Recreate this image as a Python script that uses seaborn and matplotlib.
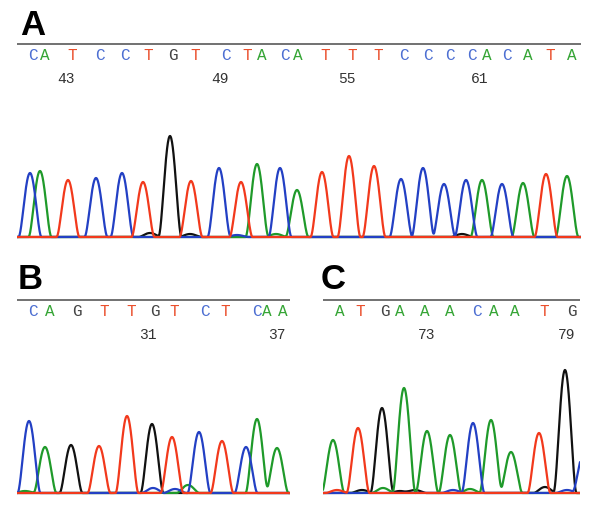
import matplotlib
matplotlib.use('Agg')
import matplotlib.pyplot as plt
import seaborn as sns
import numpy as np
import pandas as pd

sns.set_theme(style="white")
plt.rcParams['font.family'] = ['Liberation Mono', 'DejaVu Sans']

# channel colours (traces) and base-call letter colours
TRACE_COLORS = {'A': '#1f9a2a', 'C': '#2340c4', 'G': '#111111', 'T': '#f2391c'}
CALL_COLORS = {'A': '#35a535', 'C': '#4d6fd2', 'G': '#444444', 'T': '#ea4f2c'}

# ---- Panel A ----
a_calls = list("CATCCTGTCTACATTTCCCCACATA")
a_call_x = [33, 45, 72, 100, 125, 148, 173, 195, 226, 247, 262, 285, 298,
            325, 352, 378, 404, 428, 450, 472, 487, 507, 528, 550, 572]
a_numbers = ['43', '49', '55', '61']
a_number_x = [66, 220, 347, 480]
a_peak_base = ['C', 'A', 'T', 'C', 'C', 'T', 'G', 'T', 'C', 'T', 'A', 'C', 'A',
               'T', 'T', 'T', 'C', 'C', 'C', 'C', 'A', 'C', 'A', 'T', 'A',
               'G', 'G', 'C', 'A', 'G']
a_peak_x = [30, 40, 68, 96, 122, 143, 170, 191, 219, 241, 257, 280, 297,
            322, 349, 374, 401, 423, 444, 466, 482, 502, 523, 546, 567,
            150, 190, 237, 276, 462]
a_peak_h = [64, 66, 57, 59, 64, 55, 101, 56, 69, 55, 73, 69, 47,
            65, 81, 71, 58, 69, 53, 57, 57, 53, 54, 63, 61,
            4, 3, 2, 3, 3]

# ---- Panel B ----
b_calls = list("CAGTTGTCTCAA")
b_call_x = [33, 50, 77, 104, 131, 155, 174, 205, 225, 257, 267, 283]
b_numbers = ['31', '37']
b_number_x = [148, 277]
b_peak_base = ['C', 'A', 'G', 'T', 'T', 'G', 'T', 'C', 'T', 'C', 'A', 'A',
               'C', 'C', 'A', 'A']
b_peak_x = [29, 45, 71, 99, 127, 152, 172, 199, 222, 246, 257, 277,
            153, 175, 188, 25]
b_peak_h = [72, 46, 48, 47, 77, 69, 56, 61, 52, 46, 74, 45,
            5, 4, 8, 2]

# ---- Panel C ----
c_calls = list("ATGAAACAATG")
c_call_x = [340, 360, 385, 400, 425, 450, 477, 494, 515, 544, 572]
c_numbers = ['73', '79']
c_number_x = [427, 567]
c_peak_base = ['A', 'T', 'G', 'A', 'A', 'A', 'C', 'A', 'A', 'T', 'G', 'C',
               'T', 'G', 'A', 'G', 'G', 'C', 'A', 'G', 'C']
c_peak_x = [333, 358, 382, 404, 427, 450, 473, 491, 511, 539, 565, 584,
            337, 362, 383, 400, 415, 453, 470, 545, 567]
c_peak_h = [53, 65, 85, 105, 62, 58, 70, 73, 41, 60, 123, 40,
            3, 3, 5, 2, 3, 3, 4, 6, 3]

HALF_WIDTH = 11.5  # peak half-width at the baseline, in scan units


def trace_frame(bases, xs, hs, x0, x1):
    grid = np.linspace(x0, x1, 1500)
    rows = []
    for ch in ['G', 'A', 'C', 'T']:
        sig = np.zeros_like(grid)
        for b, x, h in zip(bases, xs, hs):
            if b == ch:
                u = np.clip((grid - x) / HALF_WIDTH, -1, 1)
                sig += h * (1 - u ** 2) ** 2
        rows.append(pd.DataFrame({'scan': grid, 'signal': sig, 'base': ch}))
    return pd.concat(rows, ignore_index=True)


def draw_panel(ax, x0, x1, calls, call_x, numbers, number_x, pb, px, ph):
    df = trace_frame(pb, px, ph, x0, x1)
    sns.lineplot(data=df, x='scan', y='signal', hue='base',
                 hue_order=['G', 'A', 'C', 'T'], palette=TRACE_COLORS,
                 legend=False, linewidth=1.6, ax=ax, sort=False)
    ax.hlines(193, x0, x1, color='#666666', linewidth=1.3)
    for c, x in zip(calls, call_x):
        ax.text(x, 181, c, color=CALL_COLORS[c], fontsize=11.5,
                ha='center', va='center')
    for n, x in zip(numbers, number_x):
        ax.text(x, 158, n, color='#333333', fontsize=10.5,
                ha='center', va='center')
    ax.set_xlim(x0, x1)
    ax.set_ylim(-3, 200)
    ax.axis('off')


W, H = 600, 517
fig = plt.figure(figsize=(6.0, 5.17), dpi=100)


def px_axes(left, right, bottom_px, top_px):
    return fig.add_axes([left / W, 1 - bottom_px / H,
                         (right - left) / W, (bottom_px - top_px) / H])


ax_a = px_axes(17, 581, 240, 37)
draw_panel(ax_a, 17, 581, a_calls, a_call_x, a_numbers, a_number_x,
           a_peak_base, a_peak_x, a_peak_h)
ax_b = px_axes(17, 290, 496, 293)
draw_panel(ax_b, 17, 290, b_calls, b_call_x, b_numbers, b_number_x,
           b_peak_base, b_peak_x, b_peak_h)
ax_c = px_axes(323, 580, 496, 293)
draw_panel(ax_c, 323, 580, c_calls, c_call_x, c_numbers, c_number_x,
           c_peak_base, c_peak_x, c_peak_h)

for lab, x, y in [('A', 20, 35), ('B', 18, 289), ('C', 321, 289)]:
    fig.text(x / W, 1 - y / H, lab, fontsize=25, fontweight='bold',
             family='Liberation Sans', color='black',
             ha='left', va='baseline')

fig.savefig('out.png', dpi=100)
